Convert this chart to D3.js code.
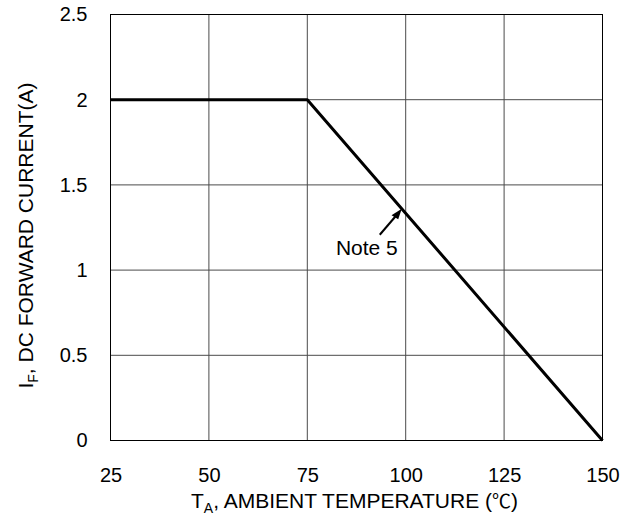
<html>
<script src='https://d3js.org/d3.v7.min.js'></script>
<style>
body {margin:0; background:#fff;}
text {font-family: Arial, 'Liberation Sans', sans-serif; fill:#000;}
</style>
<body onload='init()'>
<svg width=639 height=516></svg>
<script>
var temps = [25, 75, 150];
var currents = [2, 2, 0];
var xTicks = [25, 50, 75, 100, 125, 150];
var yTicks = [0, 0.5, 1, 1.5, 2, 2.5];
var note = {label: "Note 5", x: 99, y: 1.36};

function init() {
    var margin = {top: 14.5, left: 110.5};
    var width = 492;
    var height = 426;
    var x = d3.scaleLinear().domain([25,150]).range([0,width]);
    var y = d3.scaleLinear().domain([0,2.5]).range([height,0]);
    var svg = d3.select("svg");
    var g = svg.append("g").attr("transform","translate("+margin.left+","+margin.top+")");

    // grid
    g.selectAll(".vg").data(xTicks.slice(1,-1)).enter().append("line")
     .attr("x1",d=>x(d)).attr("x2",d=>x(d)).attr("y1",0).attr("y2",height)
     .attr("stroke","#4a4a4a").attr("stroke-width",1);
    g.selectAll(".hg").data(yTicks.slice(1,-1)).enter().append("line")
     .attr("y1",d=>y(d)).attr("y2",d=>y(d)).attr("x1",0).attr("x2",width)
     .attr("stroke","#4a4a4a").attr("stroke-width",1);
    g.append("rect").attr("width",width).attr("height",height)
     .attr("fill","none").attr("stroke","#000").attr("stroke-width",1);

    // tick labels
    var ax = g.append("g").attr("transform","translate(0,"+height+")")
      .call(d3.axisBottom(x).tickValues(xTicks).tickSize(0).tickPadding(27).tickFormat(d3.format("d")));
    var ay = g.append("g")
      .call(d3.axisLeft(y).tickValues(yTicks).tickSize(0).tickPadding(23).tickFormat(d=>d));
    [ax, ay].forEach(function(a){
        a.select(".domain").remove();
        a.selectAll("text").attr("font-size","20px").attr("font-family","Arial, 'Liberation Sans', sans-serif").attr("fill","#000");
    });

    // data line
    var pts = temps.map((t,i)=>[t,currents[i]]);
    g.append("path").datum(pts)
     .attr("d", d3.line().x(d=>x(d[0])).y(d=>y(d[1])))
     .attr("fill","none").attr("stroke","#000").attr("stroke-width",3).attr("stroke-linejoin","round");

    // annotation
    var tx = x(note.x), ty = y(note.y);
    g.append("line").attr("x1",tx-22).attr("y1",ty+26).attr("x2",tx-4).attr("y2",ty+5)
     .attr("stroke","#000").attr("stroke-width",2);
    g.append("path").attr("d","M"+tx+","+ty+" l-11,5 l6,5 z").attr("fill","#000")
     .attr("transform","rotate(-8,"+tx+","+ty+")");
    g.append("text").attr("x",tx-4).attr("y",ty+46).attr("text-anchor","end")
     .attr("font-size","21px").text(note.label);

    // titles
    var xt = svg.append("text").attr("x",margin.left+width/2-2).attr("y",508)
      .attr("text-anchor","middle").attr("font-size","21px");
    xt.append("tspan").text("T");
    xt.append("tspan").attr("font-size","14px").attr("dy",5).text("A");
    xt.append("tspan").attr("dy",-5).text(", AMBIENT TEMPERATURE (");
    xt.append("tspan").attr("font-family","'Noto Sans CJK JP'").attr("font-size","19px").text("\u2103");
    xt.append("tspan").text(")");

    var yt = svg.append("text").attr("transform","translate(33,"+(margin.top+height/2+8)+") rotate(-90)")
      .attr("text-anchor","middle").attr("font-size","21px");
    yt.append("tspan").text("I");
    yt.append("tspan").attr("font-size","14px").attr("dy",5).text("F");
    yt.append("tspan").attr("dy",-5).text(", DC FORWARD CURRENT(A)");
}
</script>
</body>
</html>
